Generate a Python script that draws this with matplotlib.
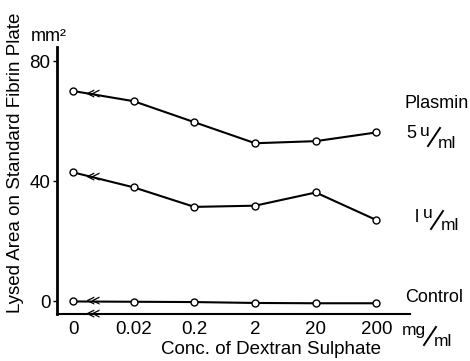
import matplotlib
matplotlib.use("Agg")
import matplotlib.pyplot as plt
import numpy as np

plt.rcParams['font.family'] = ['Liberation Sans', 'DejaVu Sans']

conc_labels = ["0", "0.02", "0.2", "2", "20", "200"]
plasmin_5u = [70.1, 66.7, 59.7, 52.7, 53.4, 56.3]
plasmin_1u = [43.0, 38.0, 31.5, 31.9, 36.3, 27.1]
control = [0.0, -0.1, -0.2, -0.5, -0.6, -0.6]

W, H = 470, 361
x = np.arange(len(conc_labels))
brk = 0.33  # where the axis break marks sit

fig = plt.figure(figsize=(W / 100, H / 100), dpi=100)
ax = fig.add_axes([0.122, 0.130, 0.750, 0.741])


def ptext(px, py, s, **kw):
    # place text by pixel position (origin top-left)
    fig.text(px / W, 1 - py / H, s, **kw)


def unit(px, py, lead, num, fs=12.5):
    # hand-set fraction like  5 u/ml ; (px, py) = centre of the slash
    if lead:
        ptext(px - 18, py - 3, lead, fontsize=13, ha='right', va='center')
    ptext(px - 4, py - 6, num, fontsize=fs, ha='right', va='center')
    fig.add_artist(plt.Line2D([(px - 6) / W, (px + 6) / W],
                              [1 - (py + 9) / H, 1 - (py - 9) / H],
                              color='black', lw=1.4))
    ptext(px + 4, py + 6, "ml", fontsize=fs, ha='left', va='center')


for series in (plasmin_5u, plasmin_1u, control):
    ax.plot(x, series, color='black', lw=1.5, marker='o', ms=5,
            mfc='white', mec='black', mew=1.0, zorder=3)
    ax.text(brk, np.interp(brk, x, series), "≪", fontsize=10, ha='center',
            va='center', family='DejaVu Sans', zorder=4)

ax.set_xlim(-0.26, 5.55)
ax.set_ylim(-4.2, 84.9)
ax.set_xticks(x)
ax.set_xticklabels(conc_labels, fontsize=13.5)
ax.set_yticks([0, 40, 80])
ax.set_yticklabels(["0", "40", "80"], fontsize=13.5)
ax.tick_params(axis='x', length=0, pad=5)
ax.tick_params(axis='y', length=3, width=1, pad=2)

ax.spines['top'].set_visible(False)
ax.spines['right'].set_visible(False)
ax.spines['left'].set_linewidth(2)
ax.spines['bottom'].set_linewidth(1.5)

ax.text(brk, -4.2, "≪", fontsize=10, ha='center', va='center',
        family='DejaVu Sans', clip_on=False, zorder=4)

ptext(271, 350, "Conc. of Dextran Sulphate", fontsize=13.5, ha='center', va='center')
ptext(16, 163, "Lysed Area on Standard Fibrin Plate", fontsize=13.5,
      ha='center', va='center', rotation=90)

ptext(49, 45, "mm²", fontsize=13, ha='center', va='bottom')
ptext(405, 103, "Plasmin", fontsize=13, ha='left', va='center')
unit(434, 137, "5", "u")
unit(437, 220, "l", "u")
ptext(405, 298, "Control", fontsize=13, ha='left', va='center')
unit(430, 336, None, "mg")

fig.savefig("out.png", dpi=100)
